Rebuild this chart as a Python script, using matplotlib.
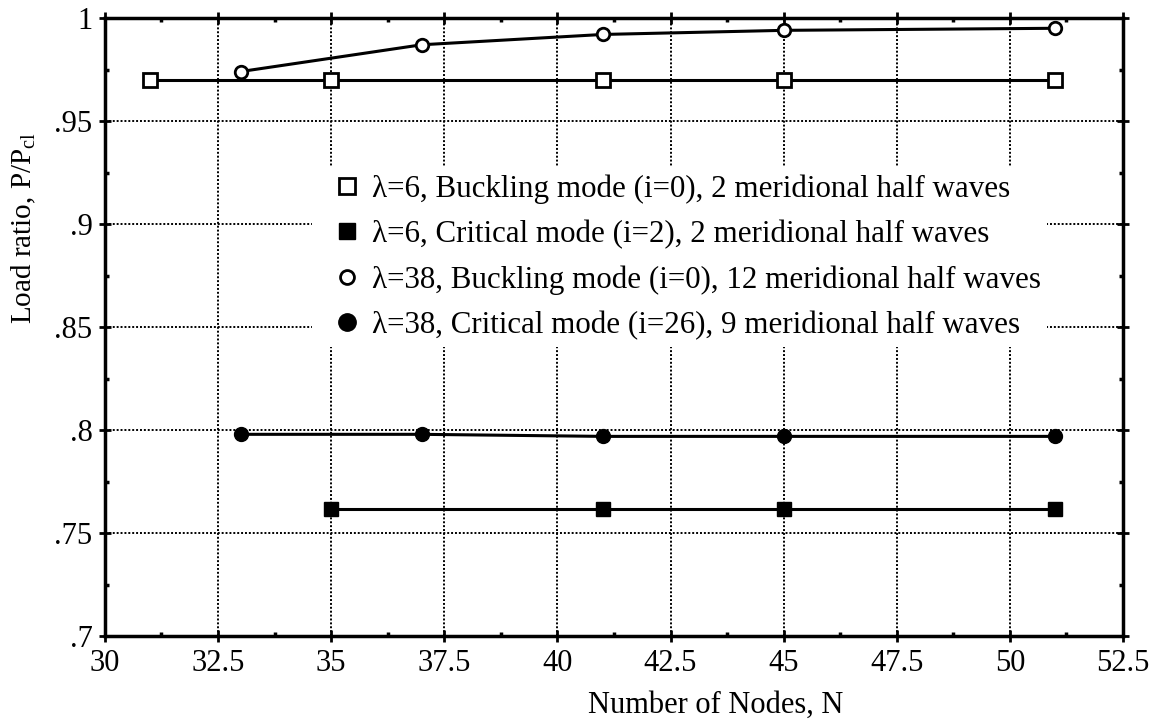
import matplotlib

matplotlib.use("Agg")
import matplotlib.pyplot as plt
from matplotlib.lines import Line2D
from matplotlib.patches import Rectangle
from matplotlib.ticker import FuncFormatter, MultipleLocator

plt.rcParams["font.family"] = ["Liberation Serif", "DejaVu Serif"]
plt.rcParams["mathtext.fontset"] = "custom"
plt.rcParams["mathtext.rm"] = "Liberation Serif"

# data
n_l6_buck = [31, 35, 41, 45, 51]
p_l6_buck = [0.970, 0.970, 0.970, 0.970, 0.970]

n_l6_crit = [35, 41, 45, 51]
p_l6_crit = [0.762, 0.762, 0.762, 0.762]

n_l38_buck = [33, 37, 41, 45, 51]
p_l38_buck = [0.974, 0.987, 0.992, 0.994, 0.995]

n_l38_crit = [33, 37, 41, 45, 51]
p_l38_crit = [0.798, 0.798, 0.797, 0.797, 0.797]

labels = [
    "λ=6, Buckling mode (i=0), 2 meridional half waves",
    "λ=6, Critical mode (i=2), 2 meridional half waves",
    "λ=38, Buckling mode (i=0), 12 meridional half waves",
    "λ=38, Critical mode (i=26), 9 meridional half waves",
]


def fmt(v, _pos):
    s = f"{v:.2f}".rstrip("0").rstrip(".")
    return s[1:] if s.startswith("0") else s


fig = plt.figure(figsize=(11.53, 7.19), dpi=100)
ax = fig.add_axes([0.091, 0.115, 0.883, 0.860])

ax.plot(n_l6_buck, p_l6_buck, color="black", lw=2.2, marker="s", ms=10,
        mfc="white", mec="black", mew=2, zorder=3)
ax.plot(n_l6_crit, p_l6_crit, color="black", lw=2.2, marker="s", ms=10,
        mfc="black", mec="black", zorder=3)
ax.plot(n_l38_buck, p_l38_buck, color="black", lw=2.2, marker="o", ms=9,
        mfc="white", mec="black", mew=2, zorder=3)
ax.plot(n_l38_crit, p_l38_crit, color="black", lw=2.2, marker="o", ms=10,
        mfc="black", mec="black", zorder=3)

ax.set_xlim(30, 52.5)
ax.set_ylim(0.7, 1.0)
ax.xaxis.set_major_locator(MultipleLocator(2.5))
ax.xaxis.set_minor_locator(MultipleLocator(1.25))
ax.yaxis.set_major_locator(MultipleLocator(0.05))
ax.yaxis.set_minor_locator(MultipleLocator(0.025))
ax.xaxis.set_major_formatter(FuncFormatter(lambda v, p: f"{v:g}"))
ax.yaxis.set_major_formatter(FuncFormatter(fmt))

ax.grid(True, which="major", color="black", linestyle=(0, (1, 1)), linewidth=1.4)
ax.set_axisbelow(True)
for sp in ax.spines.values():
    sp.set_linewidth(2.5)
    sp.set_zorder(4)
ax.tick_params(which="major", direction="inout", length=8, width=2,
               labelsize=22, top=True, right=True)
ax.tick_params(axis="x", which="major", pad=5)
ax.tick_params(axis="y", which="major", pad=5)
ax.tick_params(which="minor", direction="in", length=3, width=2.5,
               top=True, right=True)

ax.set_xlabel("Number of Nodes, N", fontsize=22)
ax.xaxis.set_label_coords(0.600, -0.088)
ax.set_ylabel(r"Load ratio, P/P$_\mathregular{cl}$", fontsize=21)
ax.yaxis.set_label_coords(-0.066, 0.660)

# white block behind the legend that hides the grid
ax.add_patch(Rectangle((0.2033, 0.4676), 0.7217, 0.2914, transform=ax.transAxes,
                       facecolor="white", edgecolor="none", zorder=1.5))

handles = [
    Line2D([], [], ls="none", marker="s", ms=11, mfc="white", mec="black", mew=2),
    Line2D([], [], ls="none", marker="s", ms=12, mfc="black", mec="black"),
    Line2D([], [], ls="none", marker="o", ms=10, mfc="white", mec="black", mew=2),
    Line2D([], [], ls="none", marker="o", ms=12.5, mfc="black", mec="black"),
]
leg = ax.legend(handles, labels, loc="upper left", bbox_to_anchor=(0.226, 0.7476),
                fontsize=22.3, frameon=False, handlelength=0.8, handletextpad=0.4,
                labelspacing=0.52, borderpad=0, borderaxespad=0)
leg.set_zorder(5)

fig.savefig("out.png", dpi=100)
